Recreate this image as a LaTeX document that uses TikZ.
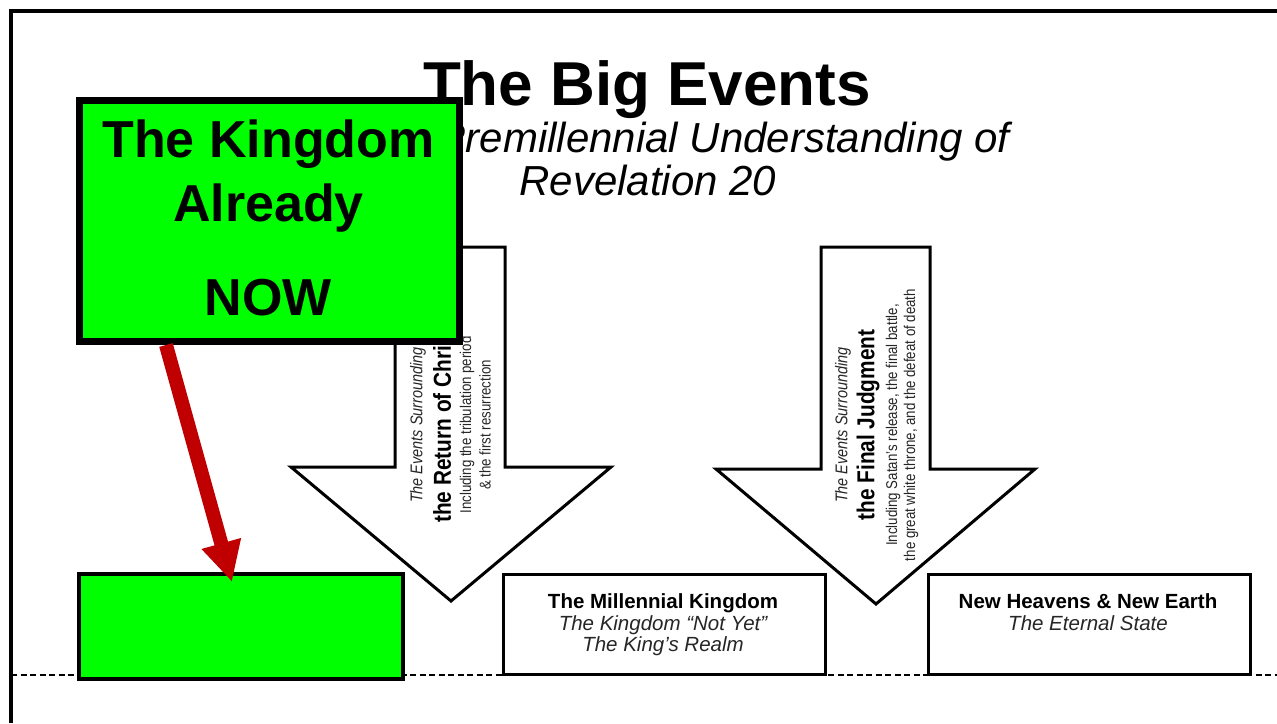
\documentclass[tikz,border=0pt]{standalone}
\usepackage{fontspec}
\setmainfont{Liberation Sans}
\newfontfamily\narrowfont[FakeStretch=0.85]{Liberation Sans}
\usetikzlibrary{arrows.meta}
\definecolor{kgreen}{HTML}{00FF00}
\definecolor{kred}{HTML}{C00000}
\begin{document}
\begin{tikzpicture}[x=1pt,y=-1pt,
  bigarrow/.style={draw=black, line width=3pt, fill=white, line join=miter},
  statebox/.style={draw=black, line width=3pt, fill=white, inner sep=0pt},
  greenbox/.style={draw=black, fill=kgreen, inner sep=0pt},
  vital/.style={rotate=90, inner sep=0pt, text=black!85, font={\narrowfont\itshape\fontsize{17}{17}\selectfont}},
  vbold/.style={rotate=90, inner sep=0pt, text=black, font={\narrowfont\bfseries\fontsize{24.5}{24.5}\selectfont}},
  vsmall/.style={rotate=90, inner sep=0pt, text=black!85, font={\narrowfont\fontsize{15.6}{15.6}\selectfont}},
  boxhead/.style={anchor=base, inner sep=0pt, font={\bfseries\fontsize{20.5}{20.5}\selectfont}},
  boxsub/.style={anchor=base, inner sep=0pt, text=black!85, font={\itshape\fontsize{20.5}{20.5}\selectfont}},
  bigtext/.style={anchor=base, inner sep=0pt, font={\bfseries\fontsize{52}{52}\selectfont}},
  redarrow/.style={draw=kred, line width=14pt, -{Triangle[length=40pt,width=38pt]}}
]
\useasboundingbox (0,0) rectangle (1277,723);

% frame
\draw[line width=4pt] (11,723) -- (11,10.5) -- (1277,10.5);

% time line
\draw[line width=2.5pt, dash pattern=on 6pt off 3.5pt] (11,675) -- (1277,675);

% title
\node[anchor=base, inner sep=0pt, font={\bfseries\fontsize{62}{62}\selectfont}] (title) at (647,105) {The Big Events};
\node[anchor=base east, inner sep=0pt, font={\itshape\fontsize{42}{42}\selectfont}] (sub1) at (1010,152) {A Premillennial Understanding of};
\node[anchor=base, inner sep=0pt, font={\itshape\fontsize{42}{42}\selectfont}] (sub2) at (648,195) {Revelation 20};

% big arrows
\draw[bigarrow] (395,247) -- (505,247) -- (505,467) -- (611,467) -- (451,601) -- (291,467) -- (395,467) -- cycle;
\draw[bigarrow] (821,247) -- (930,247) -- (930,469) -- (1035,469) -- (876,604) -- (716,469) -- (821,469) -- cycle;

% left arrow text
\node[vital] (la1) at (418,425) {The Events Surrounding};
\node[vbold] (la2) at (442,425) {the Return of Christ};
\node[vsmall] (la3) at (467,425) {Including the tribulation period};
\node[vsmall] (la4) at (485,425) {\& the first resurrection};

% right arrow text
\node[vital] (ra1) at (843,425) {The Events Surrounding};
\node[vbold] (ra2) at (868,425) {the Final Judgment};
\node[vsmall] (ra3) at (893,425) {Including Satan’s release, the final battle,};
\node[vsmall] (ra4) at (911,425) {the great white throne, and the defeat of death};

% bottom boxes
\node[greenbox, line width=4pt, minimum width=324pt, minimum height=105pt] (already) at (241,626.5) {};
\node[statebox, minimum width=322pt, minimum height=100pt] (millbox) at (664,624) {};
\node[statebox, minimum width=322pt, minimum height=100pt] (newbox) at (1089,624) {};

\node[boxhead] (m1) at (663,608) {The Millennial Kingdom};
\node[boxsub] (m2) at (663,630) {The Kingdom “Not Yet”};
\node[boxsub] (m3) at (663,651) {The King’s Realm};
\node[boxhead] (n1) at (1088,608) {New Heavens \& New Earth};
\node[boxsub] (n2) at (1088,630) {The Eternal State};

% top green box
\node[greenbox, line width=7pt, minimum width=379.5pt, minimum height=241pt] (kingnow) at (269.25,221) {};
\node[bigtext] (k1) at (268.5,157) {The Kingdom};
\node[bigtext] (k2) at (268.5,221) {Already};
\node[bigtext] (k3) at (268.5,315) {NOW};

% red arrow
\coordinate (arrStart) at (kingnow.south -| 166,0);
\coordinate (arrEnd) at (232,582);
\draw[redarrow] (arrStart) -- (arrEnd);
\end{tikzpicture}
\end{document}
